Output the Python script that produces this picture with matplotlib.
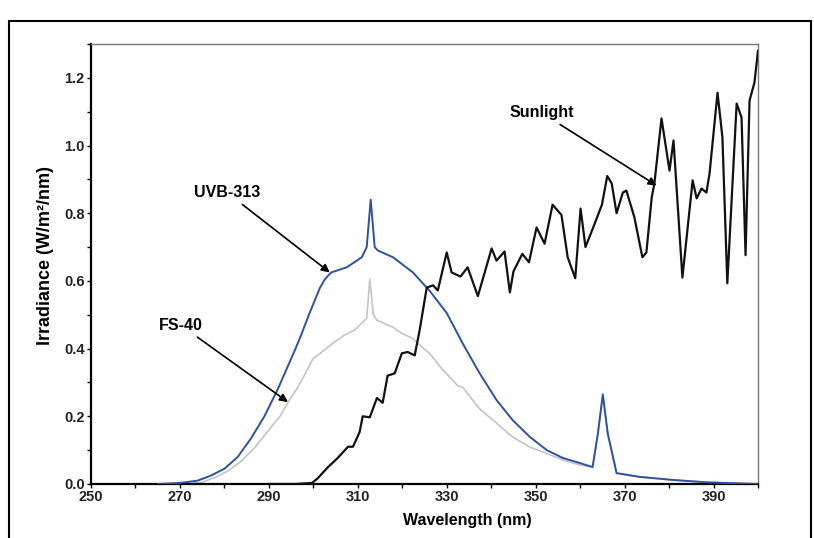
import matplotlib
matplotlib.use('Agg')
import matplotlib.pyplot as plt
import matplotlib.patches as patches
import numpy as np

plt.rcParams['font.family'] = ['Liberation Sans', 'DejaVu Sans']

# UVB-313 lamp spectrum
uvb_wl = [265, 270, 274, 277, 280, 283, 286, 289, 292, 294, 296, 297.4, 299,
          301.5, 302.6, 304, 307.5, 310.9, 312.0, 312.9, 313.8, 314.5, 317.9,
          322.4, 326.2, 330, 333.6, 337.4, 341.2, 344.8, 348.7, 352.5, 356.1,
          359.9, 362.8, 364.0, 365.1, 366.2, 368.2, 373.4, 380.8, 388.4, 395, 400]
uvb_val = [0, 0.003, 0.01, 0.025, 0.045, 0.08, 0.135, 0.2, 0.28, 0.34, 0.40,
           0.445, 0.50, 0.58, 0.605, 0.625, 0.64, 0.67, 0.70, 0.84, 0.70, 0.69,
           0.67, 0.625, 0.57, 0.505, 0.415, 0.327, 0.248, 0.189, 0.139, 0.10,
           0.077, 0.062, 0.05, 0.15, 0.265, 0.15, 0.032, 0.021, 0.012, 0.005,
           0.002, 0.0]

# FS-40 lamp spectrum
fs_wl = [265, 270, 275, 278, 281, 284, 287, 290, 292.5, 294.7, 296, 297.4,
         299.9, 301.9, 304.4, 307, 309.3, 310.9, 312.0, 312.7, 313.5, 314.3,
         317.9, 319.9, 322.4, 324.4, 326.2, 328.9, 330, 332.5, 333.6, 334.5,
         337.4, 341.2, 344.8, 348.7, 352.5, 356.1, 359.9, 362.8, 364.0, 365.1,
         366.2, 368.2, 373.4, 380.8, 388.4, 395, 400]
fs_val = [0, 0.0, 0.005, 0.02, 0.04, 0.07, 0.11, 0.16, 0.20, 0.25, 0.275,
          0.307, 0.37, 0.39, 0.416, 0.44, 0.455, 0.475, 0.49, 0.605, 0.50,
          0.484, 0.463, 0.445, 0.43, 0.405, 0.385, 0.34, 0.325, 0.29, 0.286,
          0.27, 0.222, 0.18, 0.139, 0.109, 0.09, 0.071, 0.056, 0.05, 0.15,
          0.26, 0.15, 0.032, 0.021, 0.012, 0.005, 0.002, 0.0]

# sunlight spectrum
sun_wl = [290, 296, 299.7, 301, 303.3, 305.5, 307.8, 308.9, 310.4, 311.1,
          312.7, 314.3, 315.6, 316.7, 318.3, 319.9, 321.2, 322.8, 323.9, 325.5,
          326.9, 328, 330, 331.1, 333.1, 334.7, 337, 340.1, 341.2, 343, 344.2,
          345, 347, 348.5, 350.2, 352, 353.8, 355.8, 357.2, 358.9, 360.1, 361.2,
          363, 364.9, 366.1, 367.1, 368.2, 369.6, 370.4, 372.2, 374, 374.9,
          376.1, 376.7, 378.3, 380.1, 381, 383, 385.3, 386.2, 387.3, 388.4,
          389.1, 390.9, 392, 393.1, 395.2, 396.3, 397.2, 398.1, 399.2, 400]
sun_val = [0, 0, 0.003, 0.017, 0.05, 0.077, 0.11, 0.11, 0.153, 0.2, 0.197,
           0.254, 0.24, 0.32, 0.327, 0.386, 0.39, 0.38, 0.454, 0.58, 0.587,
           0.572, 0.684, 0.625, 0.613, 0.64, 0.555, 0.696, 0.66, 0.687, 0.566,
           0.628, 0.68, 0.655, 0.758, 0.71, 0.825, 0.795, 0.67, 0.608, 0.814,
           0.70, 0.76, 0.825, 0.91, 0.888, 0.80, 0.861, 0.867, 0.788, 0.67,
           0.684, 0.847, 0.888, 1.08, 0.926, 1.015, 0.61, 0.897, 0.844, 0.873,
           0.861, 0.917, 1.156, 1.024, 0.593, 1.124, 1.083, 0.676, 1.133,
           1.186, 1.28]

fig = plt.figure(figsize=(8.14, 5.38), dpi=100)
ax = fig.add_axes([0.1118, 0.1004, 0.8194, 0.8178])

# outer frame
fig.patches.append(patches.Rectangle((0.011, -0.05), 0.985, 1.011,
                                     transform=fig.transFigure, fill=False,
                                     edgecolor='black', lw=1.5))

ax.plot(fs_wl, fs_val, color='#c4c4c4', lw=1.2, zorder=2)
ax.plot(uvb_wl, uvb_val, color='#2d52a3', lw=1.4, zorder=3)
ax.plot(sun_wl, sun_val, color='#111111', lw=1.6, zorder=4)

ax.set_xlim(250, 400)
ax.set_ylim(0, 1.3)
ax.set_xticks(np.arange(250, 400, 20))
ax.set_xticks(np.arange(260, 401, 20), minor=True)
ax.set_yticks(np.arange(0, 1.21, 0.2))
ax.set_yticks(np.arange(0.1, 1.31, 0.2), minor=True)
ax.set_yticklabels(['%.1f' % v for v in np.arange(0, 1.21, 0.2)])
ax.tick_params(which='both', direction='out', length=3, width=1, labelsize=10.5,
               pad=1.5)
for lab in ax.get_xticklabels() + ax.get_yticklabels():
    lab.set_fontweight('bold')
    lab.set_color('#222222')

for side in ['left', 'bottom']:
    ax.spines[side].set_linewidth(1.6)
    ax.spines[side].set_color('black')
for side in ['top', 'right']:
    ax.spines[side].set_linewidth(1.0)
    ax.spines[side].set_color('#777777')

ax.set_xlabel('Wavelength (nm)', fontsize=11.5, fontweight='bold')
ax.xaxis.set_label_coords(0.564, -0.065)
ax.set_ylabel('Irradiance (W/m²/nm)', fontsize=13, fontweight='bold')
ax.yaxis.set_label_coords(-0.056, 0.52)

arrow = dict(arrowstyle='-|>', color='black', lw=1.2, mutation_scale=12,
             shrinkA=2, shrinkB=0)
ax.annotate('Sunlight', xy=(377.2, 0.882), xytext=(351.3, 1.097),
            ha='center', va='center', fontsize=11.5, fontweight='bold',
            arrowprops=arrow)
ax.annotate('UVB-313', xy=(303.7, 0.625), xytext=(280.6, 0.861),
            ha='center', va='center', fontsize=11.5, fontweight='bold',
            arrowprops=arrow)
ax.annotate('FS-40', xy=(294.3, 0.242), xytext=(270.2, 0.469),
            ha='center', va='center', fontsize=11.5, fontweight='bold',
            arrowprops=arrow)

fig.savefig('out.png', dpi=100)
